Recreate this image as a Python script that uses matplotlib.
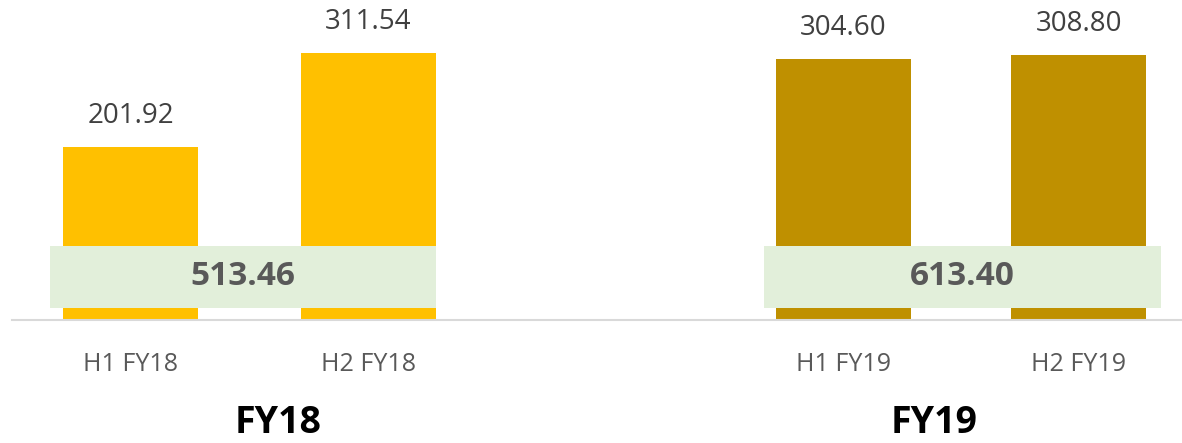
import matplotlib
matplotlib.use("Agg")
import matplotlib.pyplot as plt
from matplotlib.patches import Rectangle

categories = ["H1 FY18", "H2 FY18", "H1 FY19", "H2 FY19"]
values = [201.92, 311.54, 304.60, 308.80]
groups = ["FY18", "FY19"]
group_totals = [513.46, 613.40]

positions = [0, 1, 2.995, 3.985]
colors = ["#FFC000", "#FFC000", "#BF9000", "#BF9000"]

plt.rcParams['font.family'] = ['Open Sans', 'DejaVu Sans']

fig = plt.figure(figsize=(11.82, 4.43), dpi=100)
ax = fig.add_axes([12/1182, 123/443, 1170/1182, 320/443])

width = 135/238
ax.bar(positions, values, width=width, color=colors, zorder=2)
ax.set_xlim(-0.498, 4.418)
ax.set_ylim(0, 373)

for x, v in zip(positions, values):
    ax.annotate(f"{v:.2f}", (x, v), xytext=(0, 12), textcoords="offset points",
                ha="center", va="bottom", fontsize=20, color="#404040")

# total boxes
box_spans = [(-0.338, 1.284), (2.662, 4.330)]
for (x0, x1), tot in zip(box_spans, group_totals):
    ax.add_patch(Rectangle((x0, 14.4), x1 - x0, 86.3 - 14.4, facecolor="#E2EFDA",
                           edgecolor="none", zorder=3))
    ax.text((x0 + x1) / 2, (14.4 + 86.3) / 2, f"{tot:.2f}", ha="center", va="center",
            fontsize=24, fontweight="bold", color="#595959", zorder=4)

for s in ["top", "right", "left"]:
    ax.spines[s].set_visible(False)
ax.spines["bottom"].set_color("#D9D9D9")
ax.spines["bottom"].set_linewidth(1.5)
ax.set_yticks([])
ax.set_xticks(positions)
ax.set_xticklabels(categories, fontsize=18, color="#595959")
ax.tick_params(axis="x", length=0, pad=23)

group_x = [0.618, 3.376]
for gx, g in zip(group_x, groups):
    ax.text(gx, -103 / 0.858, g, ha="center", va="center", fontsize=27,
            fontweight="bold", color="#000000")

fig.savefig("out.png", dpi=100)
